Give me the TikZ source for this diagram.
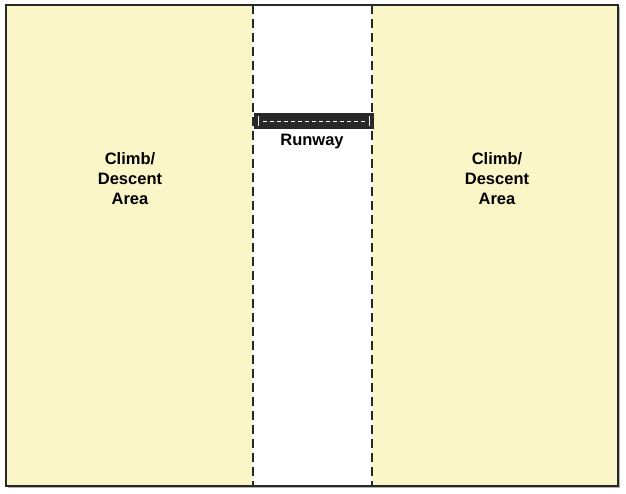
\documentclass[tikz,border=0pt]{standalone}
\usepackage{fontspec}
\setmainfont{Liberation Sans}
\definecolor{areayellow}{RGB}{251,246,200}
\definecolor{runwaygray}{RGB}{78,78,78}
\definecolor{edgegray}{RGB}{40,40,40}
\begin{document}
\begin{tikzpicture}[x=1pt,y=-1pt,
    areatext/.style={align=center,font=\fontsize{16.5}{20}\selectfont\bfseries},
    boundary/.style={line width=1.8pt,edgegray,dash pattern=on 9pt off 5pt}]
    \useasboundingbox (0,0) rectangle (626,493);

    % climb / descent areas
    \fill[areayellow] (6,5) rectangle (253,486);
    \fill[areayellow] (372,5) rectangle (618,486);

    \draw[boundary] (253,5) -- (253,486);
    \draw[boundary] (372,5) -- (372,486);

    % runway strip
    \draw[fill=runwaygray,edgegray,line width=1.2pt] (255,114) rectangle (373,128);
    \draw[white,line width=0.8pt,dash pattern=on 4pt off 3pt] (263,121) -- (365,121);
    \draw[white!85!gray,line width=1.5pt] (258.5,116) -- (258.5,126);
    \draw[white!85!gray,line width=1.5pt] (369.5,116) -- (369.5,126);

    \node[areatext] (runway) at (312,141.5) {Runway};
    \node[areatext] (leftarea) at (130,178.5) {Climb/\\Descent\\Area};
    \node[areatext] (rightarea) at (497,178.5) {Climb/\\Descent\\Area};

    % outer frame
    \draw[gray!60,line width=1.2pt] (8,487.5) -- (619.5,487.5) -- (619.5,7);
    \draw[edgegray,line width=1.8pt] (6,5) rectangle (618,486);
\end{tikzpicture}
\end{document}
